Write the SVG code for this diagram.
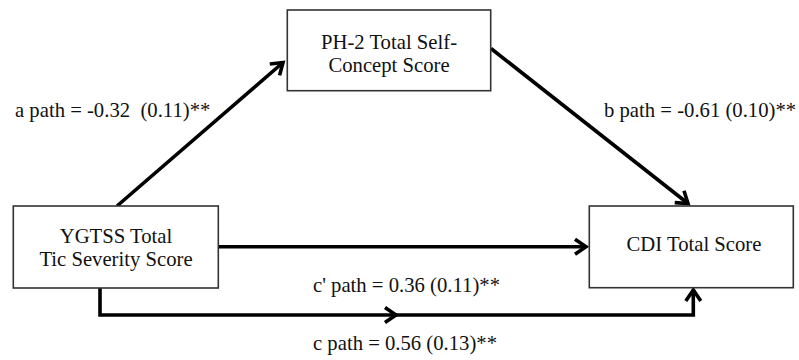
<svg xmlns="http://www.w3.org/2000/svg" width="799" height="360" viewBox="0 0 799 360">
<style>
  .box { fill: #ffffff; stroke: #333333; stroke-width: 1.6; }
  text { font-family: 'Liberation Serif', 'Times New Roman', 'DejaVu Serif', serif; font-size: 20.7px; fill: #111111; }
  .mid { text-anchor: middle; }
  .conn { fill: none; stroke: #000000; stroke-width: 3.6; }
</style>
<defs>
  <marker id="arr" markerUnits="userSpaceOnUse" markerWidth="30" markerHeight="30" viewBox="-15 -15 30 30" refX="0" refY="0" orient="auto">
    <path d="M-11,-7.5 L0,0 L-11,7.5" fill="none" stroke="#000000" stroke-width="3.6" stroke-linejoin="miter"/>
  </marker>
</defs>
<rect width="799" height="360" fill="#ffffff"/>
<g id="connectors">
  <path class="conn" d="M117,206 L283,62.5" marker-end="url(#arr)"/>
  <path class="conn" d="M491,48.5 L688,203.5" marker-end="url(#arr)"/>
  <path class="conn" d="M218.5,246.7 L586,246.7" marker-end="url(#arr)"/>
  <path class="conn" d="M100,288 V315 H396" marker-end="url(#arr)"/>
  <path class="conn" d="M396,315 H693.3 V290" marker-end="url(#arr)"/>
</g>
<g id="node-ph2">
  <rect class="box" x="287.3" y="10" width="203.4" height="80.7"/>
  <text class="mid" x="389" y="49.3" font-family="Liberation Serif, serif">PH-2 Total Self-</text>
  <text class="mid" x="389" y="71.7" font-family="Liberation Serif, serif">Concept Score</text>
</g>
<g id="node-ygtss">
  <rect class="box" x="13.3" y="206" width="205" height="82"/>
  <text class="mid" x="116" y="242.7" font-family="Liberation Serif, serif">YGTSS Total</text>
  <text class="mid" x="116" y="265.7" font-family="Liberation Serif, serif">Tic Severity Score</text>
</g>
<g id="node-cdi">
  <rect class="box" x="589.3" y="206" width="204" height="81.7"/>
  <text class="mid" x="694" y="251" font-family="Liberation Serif, serif">CDI Total Score</text>
</g>
<g id="labels">
  <text x="15" y="116.5" xml:space="preserve" font-family="Liberation Serif, serif">a path = -0.32  (0.11)**</text>
  <text x="604" y="116.5" font-family="Liberation Serif, serif">b path = -0.61 (0.10)**</text>
  <text x="313" y="291.7" font-family="Liberation Serif, serif">c' path = 0.36 (0.11)**</text>
  <text x="313" y="350" font-family="Liberation Serif, serif">c path = 0.56 (0.13)**</text>
</g>
</svg>
